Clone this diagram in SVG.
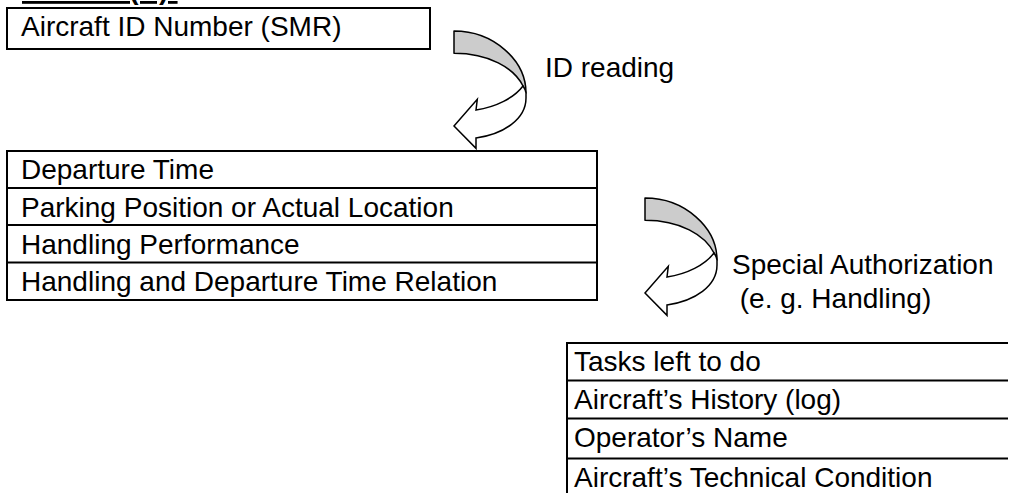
<svg xmlns="http://www.w3.org/2000/svg" width="1011" height="493" viewBox="0 0 1011 493">
  <style>
    .t { font-family: "Liberation Sans", Arial, sans-serif; font-size: 28px; fill: #000; }
    .title { font-family: "Liberation Sans", Arial, sans-serif; font-size: 28px; font-weight: bold; fill: #000; text-decoration: underline; }
    .box { fill: #fff; stroke: #000; stroke-width: 2; }
    .ln { stroke: #000; stroke-width: 2; fill: none; }
    .back { fill: #cccccc; stroke: #000; stroke-width: 1.5; stroke-linejoin: round; }
    .front { fill: #fff; stroke: #000; stroke-width: 1.5; stroke-linejoin: miter; }
  </style>
  <defs>
    <g id="curvedArrow">
      <path class="back" d="M0,0 C39.8,0 72,29.5 72,62 L69,55 C60,37 35,22.3 0,22.3 Z"/>
      <path class="front" d="M69,55 C60,67 42,76 22,79 L23.3,68.3 L0,95 L22,117.3 L22,107 C50,103 72,88 72,67 L72,62 C71.5,59 70.5,57 69,55 Z"/>
    </g>
  </defs>
  <rect width="1011" height="493" fill="#fff"/>

  <text class="title" x="22" y="-1">Aircraft (A):</text>

  <g id="node-aircraft-id">
    <rect class="box" x="7" y="8" width="423" height="41"/>
    <text class="t" x="21" y="36">Aircraft ID Number (SMR)</text>
  </g>

  <g id="node-departure">
    <rect class="box" x="7" y="151" width="590" height="149"/>
    <line class="ln" x1="7" y1="188" x2="597" y2="188"/>
    <line class="ln" x1="7" y1="225" x2="597" y2="225"/>
    <line class="ln" x1="7" y1="262.5" x2="597" y2="262.5"/>
    <text class="t" x="21" y="179">Departure Time</text>
    <text class="t" x="21" y="216.5">Parking Position or Actual Location</text>
    <text class="t" x="21" y="254">Handling Performance</text>
    <text class="t" x="21" y="291">Handling and Departure Time Relation</text>
  </g>

  <g id="node-tasks">
    <line class="ln" x1="567" y1="342" x2="567" y2="493"/>
    <line class="ln" x1="566" y1="343" x2="1008" y2="343"/>
    <line class="ln" x1="566" y1="380.5" x2="1008" y2="380.5"/>
    <line class="ln" x1="566" y1="418.5" x2="1008" y2="418.5"/>
    <line class="ln" x1="566" y1="458.5" x2="1008" y2="458.5"/>
    <text class="t" x="574" y="371">Tasks left to do</text>
    <text class="t" x="574" y="408.5">Aircraft’s History (log)</text>
    <text class="t" x="574" y="446.5">Operator’s Name</text>
    <text class="t" x="574" y="486.5">Aircraft’s Technical Condition</text>
  </g>

  <g id="connectors">
    <g id="arrow-id-reading">
      <use href="#curvedArrow" transform="translate(454,31)"/>
      <text class="t" x="545" y="77">ID reading</text>
    </g>
    <g id="arrow-special-authorization">
      <use href="#curvedArrow" transform="translate(645,198)"/>
      <text class="t" x="732" y="274">Special Authorization</text>
      <text class="t" x="732" y="308" xml:space="preserve"> (e. g. Handling)</text>
    </g>
  </g>
</svg>
